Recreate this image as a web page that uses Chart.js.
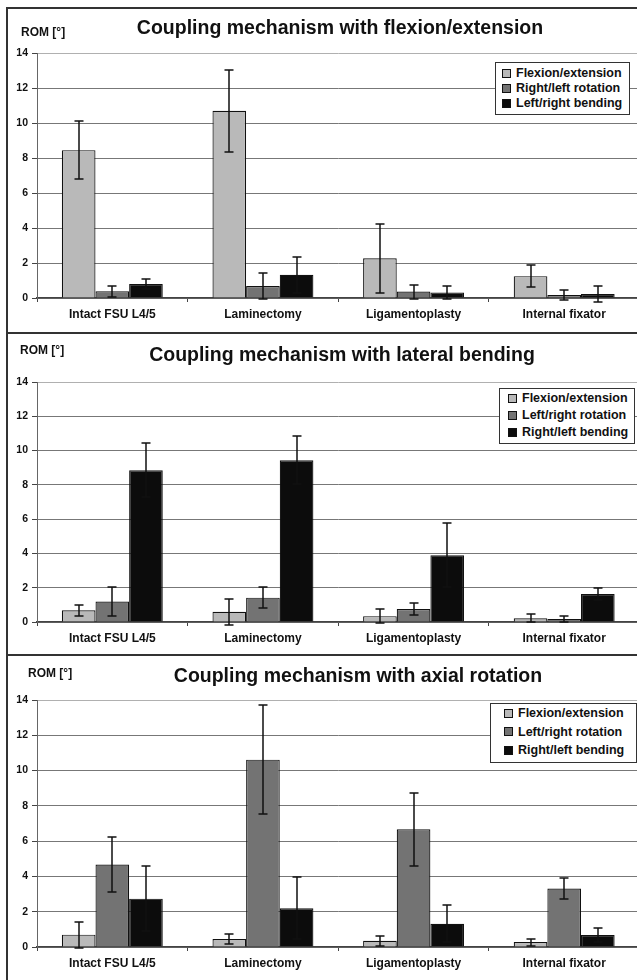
<!DOCTYPE html>
<html>
<head>
<meta charset="utf-8">
<script src="https://cdn.jsdelivr.net/npm/chart.js@4.4.1/dist/chart.umd.min.js"></script>
<style>
  html, body { margin: 0; padding: 0; background: #fff; }
  body { width: 637px; height: 980px; overflow: hidden; position: relative; font-family: "Liberation Sans", Arial, sans-serif; color: #111; }
  .panel { position: absolute; left: 6px; width: 700px; border: 2px solid #333; box-sizing: border-box; }
  canvas { position: absolute; left: 0; }
  .title { position: absolute; font-weight: bold; font-size: 19.5px; white-space: nowrap; transform: translate(-50%, -50%); }
  .rom { position: absolute; font-weight: bold; font-size: 12px; white-space: nowrap; transform: translateY(-50%); }
  .legend { position: absolute; background: #fff; border: 1px solid #333; box-sizing: border-box; font-weight: bold; font-size: 12.5px; }
  .legendItem { display: flex; align-items: center; white-space: nowrap; }
  .legendColor { width: 7px; height: 7px; border: 1px solid #111; margin-right: 5px; }
</style>
</head>
<body>
<div class="panel" style="top:7px;height:327px"></div>
<div class="panel" style="top:332px;height:324px"></div>
<div class="panel" style="top:654px;height:328px"></div>

<canvas id="c1" width="660" height="323" style="top:8px"></canvas>
<canvas id="c2" width="660" height="319" style="top:334px"></canvas>
<canvas id="c3" width="660" height="322" style="top:656px"></canvas>

<script>
// categories and axis
const categories = ['Intact FSU L4/5', 'Laminectomy', 'Ligamentoplasty', 'Internal fixator'];
const yMax = 14;
const yStep = 2;

// coupling with flexion/extension
const feTitle = 'Coupling mechanism with flexion/extension';
const feLabels = ['Flexion/extension', 'Right/left rotation', 'Left/right bending'];
const feFlex = [8.45, 10.7, 2.27, 1.25];
const feFlexErr = [1.65, 2.33, 1.97, 0.63];
const feRot = [0.38, 0.68, 0.37, 0.17];
const feRotErr = [0.33, 0.76, 0.4, 0.26];
const feBend = [0.8, 1.33, 0.32, 0.23];
const feBendErr = [0.3, 1.03, 0.35, 0.47];

// coupling with lateral bending
const lbTitle = 'Coupling mechanism with lateral bending';
const lbLabels = ['Flexion/extension', 'Left/right rotation', 'Right/left bending'];
const lbFlex = [0.68, 0.6, 0.34, 0.22];
const lbFlexErr = [0.34, 0.75, 0.4, 0.22];
const lbRot = [1.2, 1.42, 0.76, 0.18];
const lbRotErr = [0.85, 0.6, 0.33, 0.18];
const lbBend = [8.85, 9.43, 3.9, 1.63];
const lbBendErr = [1.57, 1.4, 1.85, 0.37];

// coupling with axial rotation
const arTitle = 'Coupling mechanism with axial rotation';
const arLabels = ['Flexion/extension', 'Left/right rotation', 'Right/left bending'];
const arFlex = [0.7, 0.45, 0.35, 0.28];
const arFlexErr = [0.73, 0.28, 0.3, 0.2];
const arRot = [4.67, 10.62, 6.67, 3.32];
const arRotErr = [1.56, 3.08, 2.08, 0.58];
const arBend = [2.74, 2.2, 1.32, 0.68];
const arBendErr = [1.86, 1.76, 1.06, 0.38];

const colors = ['#b9b9b9', '#737373', '#0c0c0c'];
const FONT = '"Liberation Sans", Arial, sans-serif';

// error bars drawn on top of the bars
const errorBarPlugin = {
  id: 'errorBars',
  afterDatasetsDraw(chart) {
    const ctx = chart.ctx;
    const yScale = chart.scales.y;
    ctx.save();
    ctx.strokeStyle = '#111';
    ctx.lineWidth = 1.5;
    chart.data.datasets.forEach((ds, i) => {
      const meta = chart.getDatasetMeta(i);
      meta.data.forEach((bar, j) => {
        const v = ds.data[j];
        const e = ds.errorBars[j];
        const x = Math.round(bar.x);
        const yTop = Math.round(yScale.getPixelForValue(v + e));
        const yBot = Math.round(yScale.getPixelForValue(v - e));
        ctx.beginPath();
        ctx.moveTo(x, yTop); ctx.lineTo(x, yBot);
        ctx.moveTo(x - 4.5, yTop); ctx.lineTo(x + 4.5, yTop);
        ctx.moveTo(x - 4.5, yBot); ctx.lineTo(x + 4.5, yBot);
        ctx.stroke();
      });
    });
    ctx.restore();
  }
};

function makeChart(id, values, errors, padTop, padBottom) {
  const ctx = document.getElementById(id).getContext('2d');
  return new Chart(ctx, {
    type: 'bar',
    data: {
      labels: categories,
      datasets: values.map((vals, i) => ({
        data: vals,
        errorBars: errors[i],
        backgroundColor: colors[i],
        borderColor: '#111',
        borderWidth: 1.2,
        categoryPercentage: 0.67,
        barPercentage: 1.0,
      })),
    },
    options: {
      responsive: false,
      animation: false,
      devicePixelRatio: 1,
      layout: { padding: { top: padTop, bottom: padBottom, left: 0, right: 20.5 } },
      scales: {
        x: {
          ticks: { color: '#111', font: { family: FONT, size: 12, weight: 'bold' }, padding: 5, maxRotation: 0, autoSkip: false },
          grid: { drawOnChartArea: false, offset: true, tickLength: 4, tickColor: '#444' },
          border: { color: '#444', width: 1.5 },
          afterFit: (s) => { s.height = 30; },
        },
        y: {
          min: 0,
          max: yMax,
          ticks: { stepSize: yStep, color: '#111', font: { family: FONT, size: 10.5, weight: 'bold' }, padding: 4 },
          grid: {
            color: (c) => (c.tick && c.tick.value === yMax ? '#b0b0b0' : '#777'),
            lineWidth: 1,
            tickLength: 5,
            tickColor: '#444',
          },
          border: { color: '#666', width: 1 },
          afterFit: (s) => { s.width = 37; },
        },
      },
      plugins: {
        legend: { display: false },
        tooltip: { enabled: false },
        title: { display: false },
      },
    },
    plugins: [errorBarPlugin],
  });
}

function addText(cls, text, x, y) {
  const d = document.createElement('div');
  d.className = cls;
  d.textContent = text;
  d.style.left = x + 'px';
  d.style.top = y + 'px';
  document.body.appendChild(d);
}

function addLegend(labels, box) {
  const lg = document.createElement('div');
  lg.className = 'legend';
  lg.style.left = box.x + 'px';
  lg.style.top = box.y + 'px';
  lg.style.width = box.w + 'px';
  lg.style.height = box.h + 'px';
  lg.style.padding = box.padTop + 'px 0 0 ' + box.padLeft + 'px';
  labels.forEach((label, i) => {
    const item = document.createElement('div');
    item.className = 'legendItem';
    item.style.height = box.row + 'px';
    const sw = document.createElement('div');
    sw.className = 'legendColor';
    sw.style.backgroundColor = colors[i];
    const tx = document.createElement('div');
    tx.textContent = label;
    item.appendChild(sw);
    item.appendChild(tx);
    lg.appendChild(item);
  });
  document.body.appendChild(lg);
}

makeChart('c1', [feFlex, feRot, feBend], [feFlexErr, feRotErr, feBendErr], 45, 3);
makeChart('c2', [lbFlex, lbRot, lbBend], [lbFlexErr, lbRotErr, lbBendErr], 48, 1);
makeChart('c3', [arFlex, arRot, arBend], [arFlexErr, arRotErr, arBendErr], 44, 1);

addText('title', feTitle, 340, 27);
addText('title', lbTitle, 342, 354);
addText('title', arTitle, 358, 675);
addText('rom', 'ROM [°]', 21, 32);
addText('rom', 'ROM [°]', 20, 350);
addText('rom', 'ROM [°]', 28, 673);

addLegend(feLabels, { x: 495, y: 62, w: 135, h: 53, padTop: 2.5, padLeft: 6, row: 15 });
addLegend(lbLabels, { x: 499, y: 388, w: 136, h: 56, padTop: 0.5, padLeft: 8, row: 17 });
addLegend(arLabels, { x: 490, y: 703, w: 147, h: 60, padTop: 0, padLeft: 13, row: 18.5 });
</script>
</body>
</html>
